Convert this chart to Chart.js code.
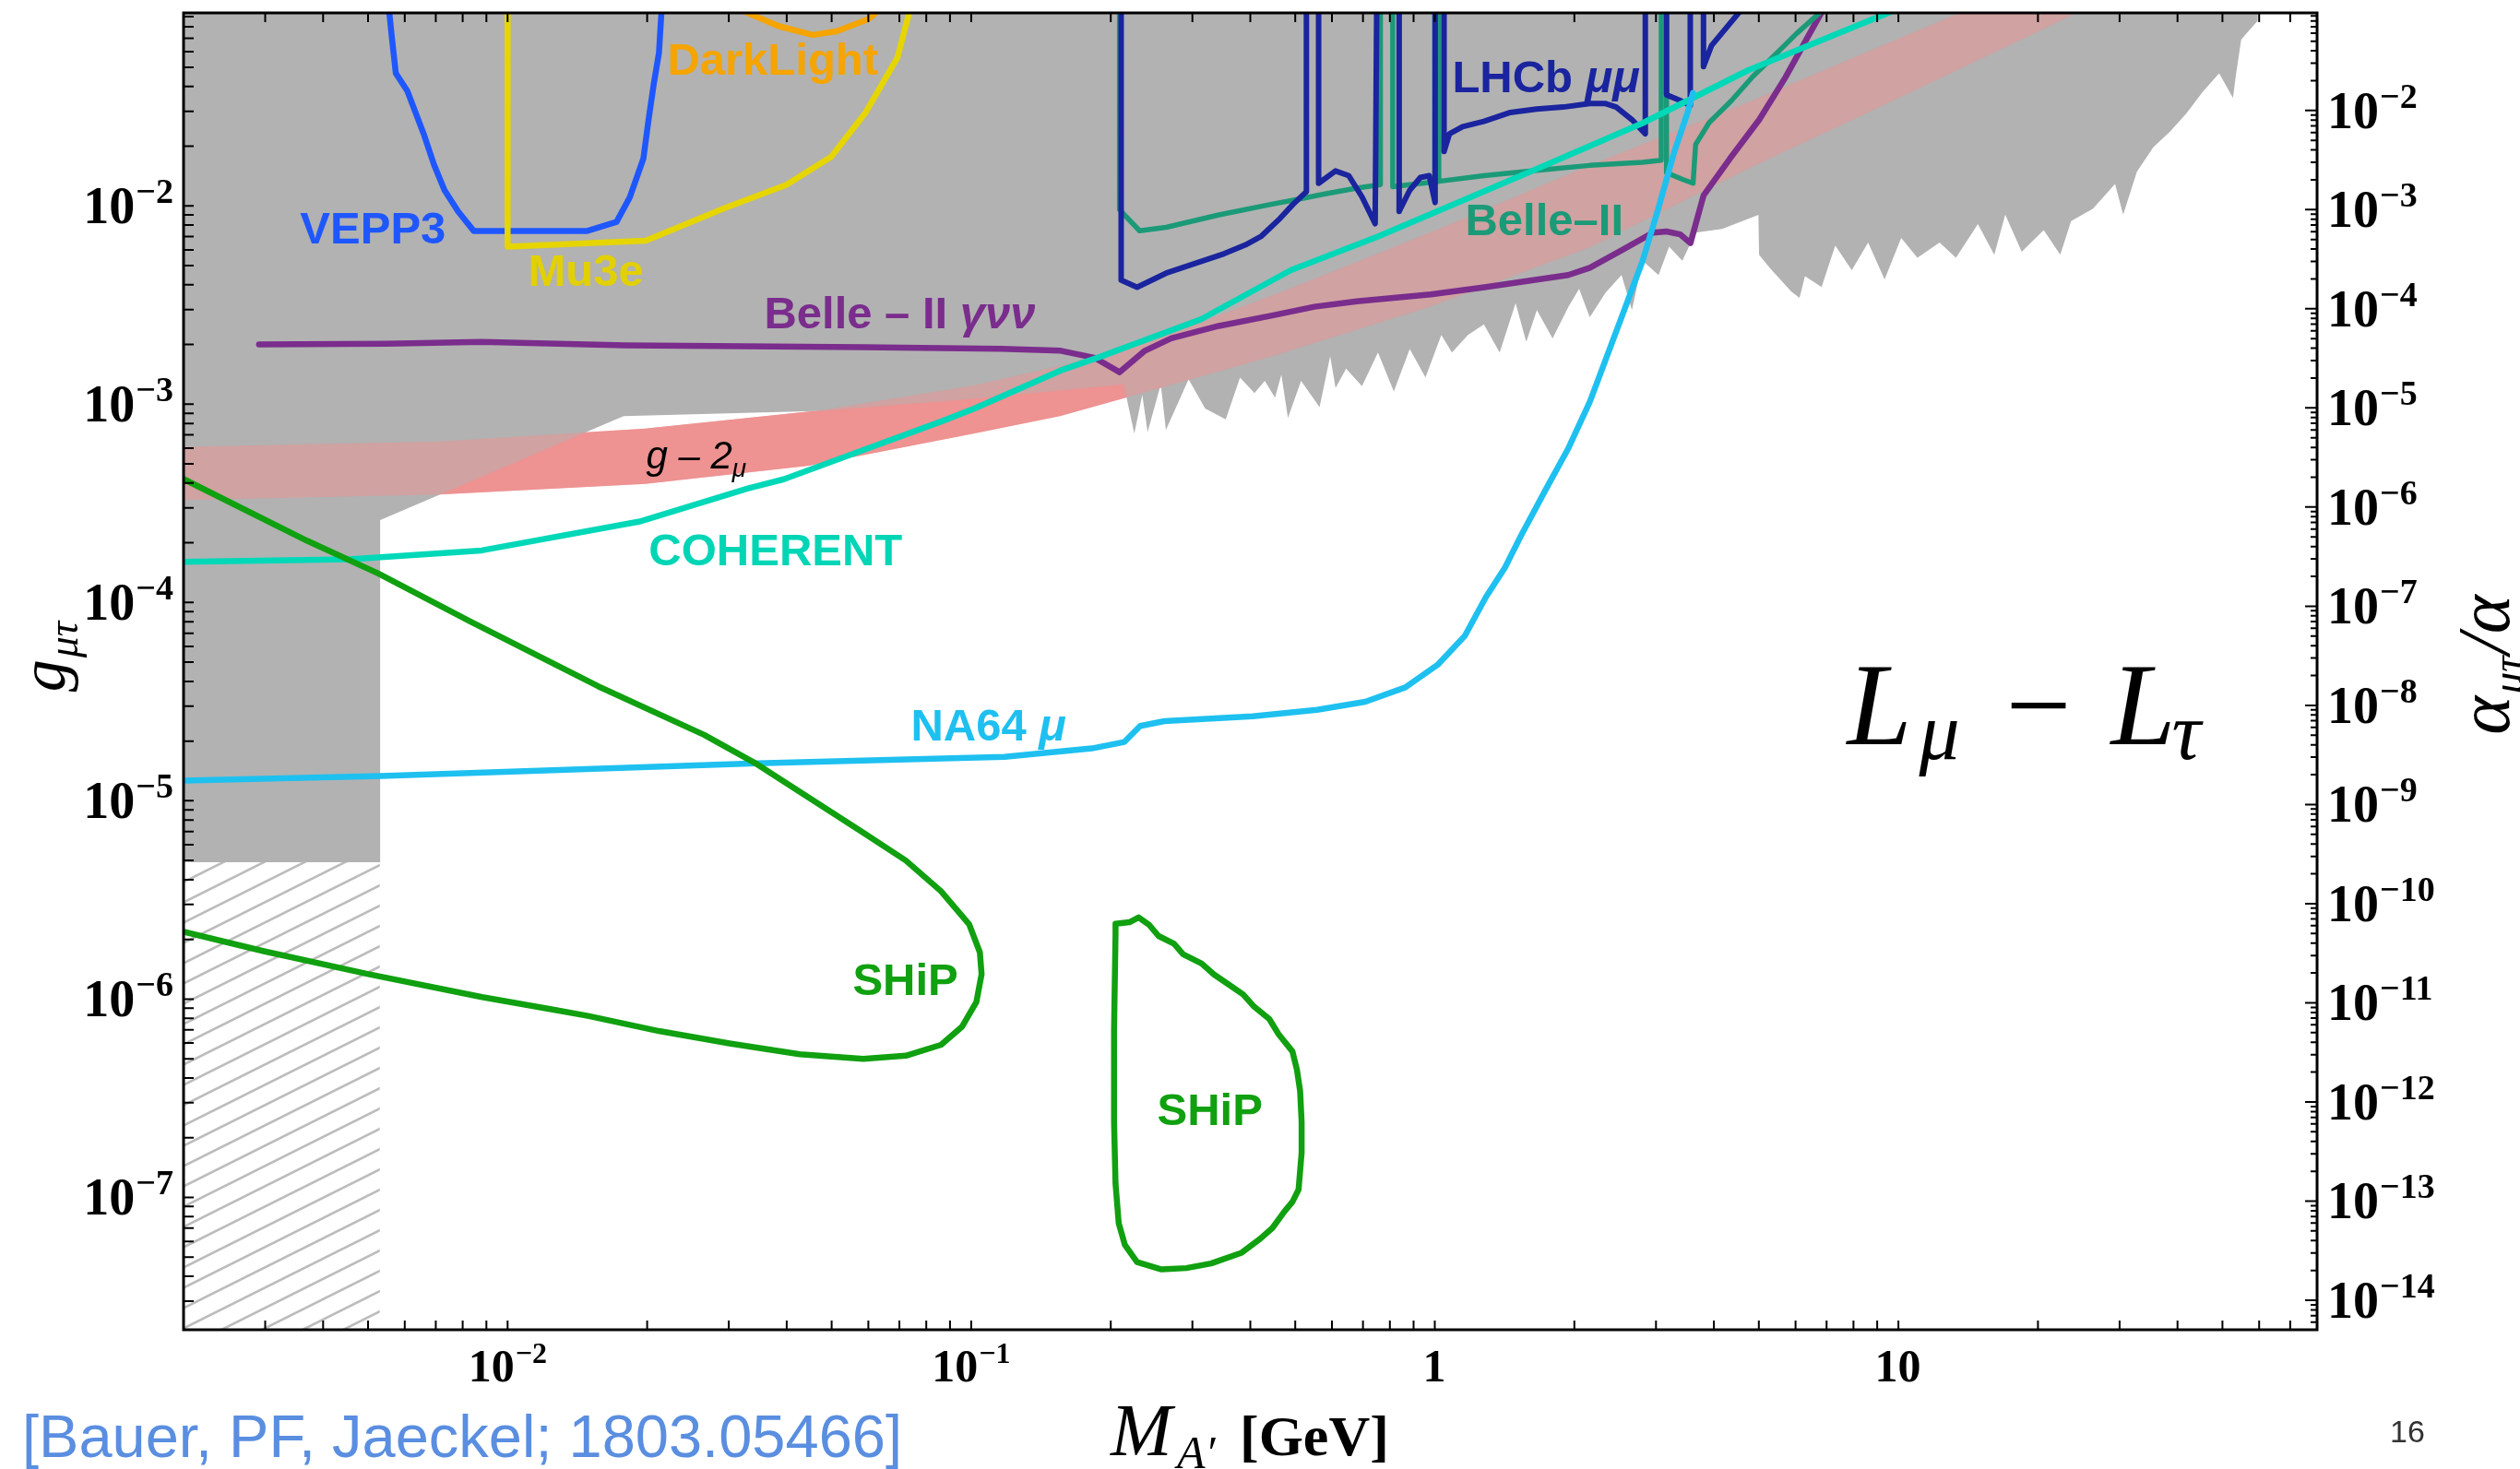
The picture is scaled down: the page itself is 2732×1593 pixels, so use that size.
<!DOCTYPE html>
<html>
<head>
<meta charset="utf-8">
<title>L_mu - L_tau</title>
<script src="https://cdn.jsdelivr.net/npm/chart.js@4.4.1/dist/chart.umd.min.js"></script>
<style>
  html, body { margin: 0; padding: 0; background: #ffffff; }
  #wrap { width: 2732px; height: 1593px; position: relative; }
</style>
</head>
<body>
<div id="wrap"><canvas id="chart"></canvas></div>
<script>
// ---- axis ranges ----
const massRange = [0.002, 80];          // M_A' [GeV]
const gRange = [2.15e-8, 0.094];        // g_mu tau
const alphaPerG2 = 137.036 / (4 * Math.PI);   // alpha_mutau / alpha = g^2 / (4 pi alpha)
const alphaRange = [gRange[0] * gRange[0] * alphaPerG2, gRange[1] * gRange[1] * alphaPerG2];

// ---- tick labels ----
const massTicks = [0.01, 0.1, 1, 10];
const massTickLabels = [['10', '-2'], ['10', '-1'], ['1', ''], ['10', '']];
const gTicks = [1e-7, 1e-6, 1e-5, 1e-4, 1e-3, 1e-2];
const gTickExp = [-7, -6, -5, -4, -3, -2];
const alphaTicks = [1e-14, 1e-13, 1e-12, 1e-11, 1e-10, 1e-9, 1e-8, 1e-7, 1e-6, 1e-5, 1e-4, 1e-3, 1e-2];
const alphaTickExp = [-14, -13, -12, -11, -10, -9, -8, -7, -6, -5, -4, -3, -2];

// ---- regions  [mass, g] ----
const excludedEdge = [
  [0.0019, 4.9e-6], [0.00531, 4.9e-6], [0.00531, 2.6e-4], [0.01779, 8.71e-4], [0.04795, 9.26e-4],
  [0.1010, 1.063e-3], [0.2133, 1.258e-3],
  [0.2248, 7.10e-4], [0.2339, 1.114e-3], [0.2402, 7.24e-4], [0.2564, 1.258e-3], [0.2630, 7.41e-4],
  [0.2797, 1.021e-3], [0.2944, 1.335e-3], [0.3196, 9.51e-4], [0.3540, 8.39e-4], [0.3801, 1.360e-3],
  [0.4084, 1.137e-3], [0.4298, 1.311e-3], [0.4522, 1.077e-3], [0.4667, 1.409e-3], [0.4822, 8.53e-4],
  [0.5147, 1.311e-3], [0.5642, 9.65e-4], [0.5947, 1.747e-3], [0.6108, 1.207e-3], [0.6437, 1.513e-3],
  [0.6966, 1.232e-3], [0.7540, 1.820e-3], [0.8159, 1.159e-3], [0.8829, 1.897e-3], [0.9548, 1.365e-3],
  [1.033, 2.235e-3], [1.089, 1.820e-3], [1.179, 2.235e-3], [1.276, 2.528e-3], [1.380, 1.820e-3],
  [1.494, 3.233e-3], [1.575, 2.059e-3], [1.660, 2.979e-3], [1.795, 2.145e-3], [1.943, 3.103e-3],
  [2.048, 3.811e-3], [2.159, 2.745e-3], [2.336, 3.658e-3], [2.528, 4.483e-3], [2.662, 2.979e-3],
  [2.807, 5.283e-3], [3.038, 4.483e-3], [3.202, 6.225e-3], [3.419, 5.283e-3], [3.652, 7.335e-3],
  [4.168, 7.643e-3], [4.990, 9.01e-3], [5.006, 5.671e-3], [5.278, 4.866e-3], [5.877, 3.693e-3],
  [6.120, 3.439e-3], [6.288, 4.418e-3], [6.828, 3.897e-3], [7.308, 6.306e-3], [7.934, 4.742e-3],
  [8.604, 6.534e-3], [9.337, 4.262e-3], [10.14, 6.898e-3], [10.99, 5.473e-3], [12.27, 6.534e-3],
  [13.31, 5.473e-3], [14.84, 8.097e-3], [16.10, 5.671e-3], [17.00, 9.024e-3], [18.45, 5.875e-3],
  [20.58, 7.544e-3], [22.34, 5.671e-3], [23.58, 8.389e-3], [26.29, 9.687e-3], [29.33, 0.01288],
  [30.54, 9.024e-3], [32.69, 0.01485], [35.49, 0.01979], [38.49, 0.02363], [41.80, 0.02929],
  [45.35, 0.03761], [49.19, 0.04662], [52.69, 0.03504], [53.41, 0.04499], [54.88, 0.06898],
  [56.39, 0.07420], [59.53, 0.08550], [59.53, 0.0987], [59.6, 0.3], [0.0019, 0.3]
];
const hatchBox = [[0.0019, 4.9e-6], [0.0053, 4.9e-6], [0.0053, 1e-8], [0.0019, 1e-8]];
const gm2Upper = [
  [0.0019, 6.08e-4], [0.00712, 6.49e-4], [0.0198, 7.53e-4], [0.0477, 9.33e-4], [0.1016, 1.246e-3],
  [0.1553, 1.559e-3], [0.2138, 1.914e-3], [0.3186, 2.629e-3], [0.4749, 3.747e-3], [0.7545, 5.756e-3],
  [1.055, 7.905e-3], [1.572, 0.0117], [2.164, 0.01606], [4.731, 0.03325], [9.625, 0.06708],
  [14.69, 0.1019], [20, 0.156]
];
const gm2Lower = [
  [0.0019, 3.28e-4], [0.00712, 3.50e-4], [0.0198, 3.96e-4], [0.0447, 4.90e-4], [0.1016, 7.12e-4],
  [0.1553, 8.71e-4], [0.2138, 1.073e-3], [0.4455, 1.743e-3], [0.9818, 3.11e-3], [2.164, 6.20e-3],
  [4.731, 0.01536], [9.625, 0.03344], [25.69, 0.1], [40, 0.166]
];

// ---- limit curves [mass, g] ----
const vepp3 = [
  [0.00550, 0.12], [0.00562, 0.0728], [0.00574, 0.0466], [0.00608, 0.0379], [0.00659, 0.0231],
  [0.00694, 0.0161], [0.00731, 0.0120], [0.00782, 0.00938], [0.00845, 0.00748], [0.01486, 0.00748],
  [0.01718, 0.0083], [0.01835, 0.01106], [0.01963, 0.01734], [0.02014, 0.0272], [0.02066, 0.0410],
  [0.02121, 0.0593], [0.02160, 0.12]
];
const mu3e = [
  [0.0100, 0.12], [0.0100, 0.00622], [0.01986, 0.00668], [0.02944, 0.00977], [0.0399, 0.01277],
  [0.0499, 0.0177], [0.0592, 0.0296], [0.0693, 0.0558], [0.0755, 0.12]
];
const darkLight = [
  [0.0310, 0.11], [0.0319, 0.097], [0.0384, 0.0807], [0.0455, 0.0728], [0.0512, 0.0759],
  [0.0600, 0.0875], [0.0632, 0.097], [0.0645, 0.11]
];
const belleGammaNuNu = [
  [0.00291, 2.00e-3], [0.00548, 2.02e-3], [0.00879, 2.06e-3], [0.0179, 1.98e-3], [0.0584, 1.94e-3],
  [0.116, 1.90e-3], [0.156, 1.86e-3], [0.185, 1.71e-3], [0.209, 1.45e-3], [0.237, 1.86e-3],
  [0.270, 2.15e-3], [0.342, 2.48e-3], [0.446, 2.80e-3], [0.550, 3.10e-3], [0.679, 3.30e-3],
  [0.980, 3.58e-3], [1.28, 3.89e-3], [1.94, 4.48e-3], [2.16, 4.87e-3], [2.53, 5.97e-3],
  [2.96, 7.34e-3], [3.16, 7.43e-3], [3.38, 7.19e-3], [3.56, 6.49e-3], [3.80, 0.0113],
  [4.33, 0.0173], [5.01, 0.0272], [5.71, 0.0446], [6.35, 0.0699], [6.87, 0.0971], [7.5, 0.13]
];
const coherent = [
  [0.0019, 1.60e-4], [0.00456, 1.65e-4], [0.00879, 1.83e-4], [0.0194, 2.57e-4], [0.0330, 3.76e-4],
  [0.0394, 4.18e-4], [0.0550, 5.57e-4], [0.0866, 8.22e-4], [0.1016, 9.51e-4], [0.156, 1.48e-3],
  [0.188, 1.72e-3], [0.313, 2.68e-3], [0.489, 4.74e-3], [0.754, 7.0e-3], [1.658, 0.01536],
  [2.807, 0.02614], [4.75, 0.04838], [9.61, 0.0951], [12, 0.118]
];
const na64mu = [
  [0.0019, 1.26e-5], [0.00534, 1.333e-5], [0.0345, 1.544e-5], [0.118, 1.664e-5], [0.182, 1.837e-5],
  [0.214, 1.98e-5], [0.2315, 2.385e-5], [0.261, 2.522e-5], [0.405, 2.668e-5], [0.557, 2.875e-5],
  [0.708, 3.156e-5], [0.864, 3.734e-5], [1.014, 4.848e-5], [1.161, 6.784e-5], [1.288, 1.061e-4],
  [1.417, 1.50e-4], [1.533, 2.162e-4], [1.748, 3.833e-4], [1.943, 6.02e-4], [2.159, 1.026e-3],
  [2.399, 1.976e-3], [2.596, 3.234e-3], [2.807, 5.283e-3], [3.038, 9.779e-3], [3.287, 0.01882],
  [3.51, 0.02957], [3.604, 0.03706]
];
const shipLowMass = [
  [0.0019, 4.45e-4], [0.00369, 2.05e-4], [0.00526, 1.40e-4], [0.00834, 7.99e-5], [0.01568, 3.78e-5],
  [0.02654, 2.15e-5], [0.03451, 1.53e-5], [0.0580, 7.0e-6], [0.07226, 5.0e-6], [0.08605, 3.50e-6],
  [0.0990, 2.38e-6], [0.1044, 1.72e-6], [0.1053, 1.335e-6], [0.1026, 9.67e-7], [0.0956, 7.27e-7],
  [0.0861, 5.88e-7], [0.0723, 5.18e-7], [0.0585, 4.99e-7], [0.0427, 5.27e-7], [0.0301, 5.98e-7],
  [0.0212, 6.90e-7], [0.0149, 8.23e-7], [0.01251, 8.86e-7], [0.00881, 1.023e-6], [0.00501, 1.335e-6],
  [0.00298, 1.744e-6], [0.0019, 2.25e-6]
];
const shipHighMass = [
  [0.2048, 2.40e-6], [0.2195, 2.44e-6], [0.2297, 2.58e-6], [0.2423, 2.36e-6], [0.2536, 2.08e-6],
  [0.2738, 1.90e-6], [0.2866, 1.68e-6], [0.3141, 1.51e-6], [0.3340, 1.33e-6], [0.3602, 1.18e-6],
  [0.3860, 1.055e-6], [0.4075, 9.16e-7], [0.4395, 7.93e-7], [0.4603, 6.65e-7], [0.4930, 5.45e-7],
  [0.5042, 4.40e-7], [0.5123, 3.43e-7], [0.5161, 2.40e-7], [0.5161, 1.68e-7], [0.5083, 1.094e-7],
  [0.4930, 9.49e-8], [0.4745, 8.52e-8], [0.4462, 7.00e-8], [0.4200, 6.18e-8], [0.3832, 5.26e-8],
  [0.3291, 4.64e-8], [0.2911, 4.40e-8], [0.2574, 4.33e-8], [0.2279, 4.72e-8], [0.2145, 5.76e-8],
  [0.2081, 7.39e-8], [0.2048, 1.174e-7], [0.2033, 2.40e-7], [0.2033, 7.00e-7], [0.2048, 2.12e-6],
  [0.2048, 2.40e-6]
];
const lhcbMuMu = [
  [0.2106, 0.12], [0.2106, 4.22e-3], [0.2279, 3.89e-3], [0.2633, 4.58e-3], [0.3084, 5.18e-3],
  [0.3514, 5.74e-3], [0.3905, 6.36e-3], [0.4227, 7.04e-3], [0.4637, 8.65e-3], [0.4950, 0.0102],
  [0.5285, 0.0118], [0.5285, 0.12], [0.5615, 0.12], [0.5615, 0.0130], [0.6106, 0.0150],
  [0.6523, 0.0142], [0.6966, 0.0111], [0.7437, 8.13e-3], [0.7497, 0.12], [0.8378, 0.12],
  [0.8378, 9.39e-3], [0.8830, 0.0120], [0.9307, 0.0139], [0.9725, 0.0142], [1.0016, 0.0104],
  [1.0016, 0.12], [1.047, 0.12], [1.047, 0.0188], [1.0755, 0.0231], [1.1482, 0.0251],
  [1.2757, 0.0267], [1.4556, 0.0296], [1.658, 0.0308], [1.892, 0.0315], [2.159, 0.0328],
  [2.336, 0.0328], [2.462, 0.0315], [2.663, 0.0272], [2.845, 0.0231], [2.845, 0.12],
  [3.161, 0.12], [3.161, 0.0363], [3.375, 0.0341], [3.557, 0.0321], [3.557, 0.12],
  [3.798, 0.12], [3.798, 0.0504], [3.953, 0.0644], [4.510, 0.0932], [4.9, 0.12]
];
const belle2 = [
  [0.2089, 0.12], [0.2089, 9.58e-3], [0.2308, 7.49e-3], [0.2633, 7.80e-3], [0.3423, 9.01e-3],
  [0.4455, 0.0102], [0.5083, 0.0108], [0.5798, 0.0115], [0.6786, 0.0123], [0.7633, 0.0128],
  [0.7633, 0.12], [0.8114, 0.12], [0.8114, 0.0125], [0.8830, 0.0128], [1.0, 0.0132],
  [1.0, 0.12], [1.02, 0.12], [1.02, 0.0133], [1.2757, 0.0142], [1.658, 0.0151],
  [2.159, 0.0160], [2.807, 0.0166], [3.079, 0.0170], [3.079, 0.12], [3.161, 0.12],
  [3.161, 0.0147], [3.422, 0.0136], [3.606, 0.0130], [3.653, 0.0204], [3.906, 0.0263],
  [4.357, 0.0338], [4.857, 0.0450], [5.418, 0.0578], [6.038, 0.0742], [6.923, 0.0987], [7.4, 0.12]
];

// ---- text annotations, anchored in data coordinates ----
const SANS_B = 'bold 49px "Liberation Sans", Arial, sans-serif';
const SANS_BI = 'italic bold 49px "Liberation Sans", Arial, sans-serif';
const curveLabels = [
  { m: 0.003568, g: 7.78e-3, color: '#1f57ff', parts: [{ t: 'VEPP3', font: SANS_B }] },
  { m: 0.01107, g: 4.75e-3, color: '#e2d000', parts: [{ t: 'Mu3e', font: SANS_B }] },
  { m: 0.0221, g: 0.0552, color: '#f5a400', parts: [{ t: 'DarkLight', font: SANS_B }] },
  { m: 0.03575, g: 2.90e-3, color: '#7a2d8c', parts: [{ t: 'Belle \u2013 II ', font: SANS_B }, { t: '\u03b3\u03bd\u03bd', font: SANS_BI }] },
  { m: 0.02016, g: 1.851e-4, color: '#00d5b5', parts: [{ t: 'COHERENT', font: SANS_B }] },
  { m: 0.0741, g: 2.42e-5, color: '#1ec0f0', parts: [{ t: 'NA64 ', font: SANS_B }, { t: '\u03bc', font: SANS_BI }] },
  { m: 0.05551, g: 1.259e-6, color: '#10a010', parts: [{ t: 'SHiP', font: SANS_B }] },
  { m: 0.2518, g: 2.78e-7, color: '#10a010', parts: [{ t: 'SHiP', font: SANS_B }] },
  { m: 1.0904, g: 0.04503, color: '#1a249e', parts: [{ t: 'LHCb ', font: SANS_B }, { t: '\u03bc\u03bc', font: SANS_BI }] },
  { m: 1.1627, g: 8.61e-3, color: '#1b9a78', parts: [{ t: 'Belle\u2013II', font: SANS_B }] }
];

function toPoints(pairs) {
  return pairs.map(p => ({ x: p[0], y: p[1] }));
}

function logTicks(lo, hi) {
  const out = [];
  for (let e = Math.floor(Math.log10(lo)); e <= Math.ceil(Math.log10(hi)); e++) {
    for (let k = 1; k <= 9; k++) {
      const v = k * Math.pow(10, e);
      if (v >= lo && v <= hi) out.push({ v: v, major: k === 1 });
    }
  }
  return out;
}

function makeHatch() {
  const c = document.createElement('canvas');
  c.width = 44; c.height = 22;
  const p = c.getContext('2d');
  p.strokeStyle = '#bcbcbc';
  p.lineWidth = 2.6;
  p.beginPath();
  for (let k = -1; k <= 1; k++) {
    p.moveTo(-10, 22 + 5 + k * 22);
    p.lineTo(54, -5 + k * 22);
  }
  p.stroke();
  return p.createPattern(c, 'repeat');
}

function drawParts(ctx, parts, x, y) {
  let cx = x;
  parts.forEach(p => {
    ctx.font = p.font;
    const px = p.ox !== undefined ? x + p.ox : cx;
    ctx.fillText(p.t, px, y + (p.dy || 0));
    cx = px + ctx.measureText(p.t).width + (p.gap || 0);
  });
  return cx - x;
}

function partsWidth(ctx, parts) {
  let w = 0;
  parts.forEach(p => { ctx.font = p.font; w += ctx.measureText(p.t).width + (p.gap || 0); });
  return w;
}

const SERIF_B = '"Liberation Serif", "Times New Roman", serif';
function powLabel(ctx, base, exp, x, y, align, big) {
  const bs = big ? 56 : 50, ss = big ? 38 : 32;
  const parts = [{ t: base, font: 'bold ' + bs + 'px ' + SERIF_B, dy: Math.round(bs * 0.34), gap: 1 }];
  if (exp !== '') parts.push({ t: exp.replace('-', '\u2212'), font: 'bold ' + ss + 'px ' + SERIF_B, dy: -3 });
  const w = partsWidth(ctx, parts);
  let x0 = x;
  if (align === 'center') x0 = x - w / 2;
  if (align === 'right') x0 = x - w;
  drawParts(ctx, parts, x0, y);
}

const frameAndText = {
  id: 'frameAndText',
  afterDatasetsDraw(chart) {
    const { ctx, chartArea: a, scales } = chart;
    const xs = scales.x, ys = scales.y, ya = scales.yA;
    ctx.save();
    ctx.textAlign = 'left';
    ctx.textBaseline = 'alphabetic';

    // curve labels
    curveLabels.forEach(l => {
      ctx.fillStyle = l.color;
      drawParts(ctx, l.parts, xs.getPixelForValue(l.m), ys.getPixelForValue(l.g) + 17.5);
    });

    // g-2 label
    ctx.fillStyle = '#000';
    let gx = xs.getPixelForValue(0.01989), gy = ys.getPixelForValue(4.75e-4);
    drawParts(ctx, [
      { t: 'g \u2013 2', font: 'italic 42px "Liberation Sans", Arial, sans-serif' },
      { t: '\u03bc', font: 'italic 28px "Liberation Sans", Arial, sans-serif', dy: 9 }
    ], gx, gy);

    // model name
    gx = xs.getPixelForValue(7.748); gy = ys.getPixelForValue(1.93e-5);
    const mi = 'italic 126px ' + SERIF_B, ms = 'italic 88px ' + SERIF_B, mr = '126px ' + SERIF_B;
    drawParts(ctx, [
      { t: 'L', font: mi, ox: 0 }, { t: '\u03bc', font: ms, dy: 16, ox: 78 },
      { t: '\u2212', font: mr, ox: 172 },
      { t: 'L', font: mi, ox: 286 }, { t: '\u03c4', font: ms, dy: 16, ox: 352 }
    ], gx, gy);

    // frame
    ctx.strokeStyle = '#000';
    ctx.lineWidth = 3;
    ctx.strokeRect(a.left, a.top, a.right - a.left, a.bottom - a.top);

    // inward ticks
    ctx.lineWidth = 2;
    ctx.beginPath();
    logTicks(massRange[0], massRange[1]).forEach(t => {
      const px = xs.getPixelForValue(t.v);
      ctx.moveTo(px, a.bottom); ctx.lineTo(px, a.bottom - 10);
      ctx.moveTo(px, a.top); ctx.lineTo(px, a.top + 10);
    });
    logTicks(gRange[0], gRange[1]).forEach(t => {
      const py = ys.getPixelForValue(t.v);
      ctx.moveTo(a.left, py); ctx.lineTo(a.left + 11, py);
    });
    logTicks(alphaRange[0], alphaRange[1]).forEach(t => {
      const py = ya.getPixelForValue(t.v);
      const len = t.major ? 13 : 7;
      ctx.moveTo(a.right, py); ctx.lineTo(a.right - len, py);
    });
    ctx.stroke();

    // tick labels
    ctx.fillStyle = '#000';
    massTicks.forEach((v, i) => {
      powLabel(ctx, massTickLabels[i][0], massTickLabels[i][1], xs.getPixelForValue(v), a.bottom + 39, 'center', false);
    });
    gTicks.forEach((v, i) => {
      powLabel(ctx, '10', String(gTickExp[i]), a.left - 11, ys.getPixelForValue(v), 'right', true);
    });
    alphaTicks.forEach((v, i) => {
      powLabel(ctx, '10', String(alphaTickExp[i]), a.right + 11, ya.getPixelForValue(v), 'left', true);
    });

    // axis titles
    drawParts(ctx, [
      { t: 'M', font: 'italic 80px ' + SERIF_B, ox: 0 },
      { t: 'A\u2032', font: 'italic 50px ' + SERIF_B, dy: 14, ox: 72 },
      { t: '[GeV]', font: 'bold 62px ' + SERIF_B, ox: 140 }
    ], 1204, 1578);

    const leftTitle = [
      { t: 'g', font: 'italic 70px ' + SERIF_B, gap: 2 },
      { t: '\u03bc\u03c4', font: 'italic 46px ' + SERIF_B, dy: 14 }
    ];
    ctx.save();
    ctx.translate(70, 712);
    ctx.rotate(-Math.PI / 2);
    drawParts(ctx, leftTitle, -partsWidth(ctx, leftTitle) / 2, 0);
    ctx.restore();

    const rightTitle = [
      { t: '\u03b1', font: 'italic 80px ' + SERIF_B, gap: 2 },
      { t: '\u03bc\u03c4', font: 'italic 48px ' + SERIF_B, dy: 15, gap: 2 },
      { t: '/\u03b1', font: 'italic 80px ' + SERIF_B }
    ];
    ctx.save();
    ctx.translate(2720, 721);
    ctx.rotate(-Math.PI / 2);
    drawParts(ctx, rightTitle, -partsWidth(ctx, rightTitle) / 2, 0);
    ctx.restore();

    // citation and page number
    ctx.fillStyle = '#5a8ee0';
    ctx.font = '65px "Liberation Sans", Arial, sans-serif';
    ctx.fillText('[Bauer, PF, Jaeckel; 1803.05466]', 24, 1580);
    ctx.fillStyle = '#333';
    ctx.font = '34px "Liberation Sans", Arial, sans-serif';
    ctx.fillText('16', 2591, 1564);
    ctx.restore();
  }
};

const lineStyle = (color, width) => ({
  showLine: true, fill: false, borderColor: color, borderWidth: width,
  pointRadius: 0, tension: 0, clip: 0, borderJoinStyle: 'round', borderCapStyle: 'round'
});
const region = (color) => ({
  fill: 'shape', backgroundColor: color, borderWidth: 0, pointRadius: 0, tension: 0, clip: 0
});

const gm2Band = toPoints(gm2Upper.concat(gm2Lower.slice().reverse()));

const datasets = [
  Object.assign({ label: 'g-2 band', data: gm2Band }, region('#ee9292')),
  Object.assign({ label: 'excluded', data: toPoints(excludedEdge) }, region('#b2b2b2')),
  Object.assign({ label: 'g-2 band (over excluded)', data: gm2Band }, region('rgba(238,146,146,0.5)')),
  Object.assign({ label: 'hatched', data: toPoints(hatchBox) }, region(makeHatch())),
  Object.assign({ label: 'Belle-II gamma nu nu', data: toPoints(belleGammaNuNu) }, lineStyle('#7a2d8c', 6.5)),
  Object.assign({ label: 'Belle-II', data: toPoints(belle2) }, lineStyle('#1b9a78', 5.5)),
  Object.assign({ label: 'LHCb mu mu', data: toPoints(lhcbMuMu) }, lineStyle('#1a249e', 6)),
  Object.assign({ label: 'COHERENT', data: toPoints(coherent) }, lineStyle('#00d8b8', 6.5)),
  Object.assign({ label: 'NA64 mu', data: toPoints(na64mu) }, lineStyle('#1ec0f0', 6.5)),
  Object.assign({ label: 'VEPP3', data: toPoints(vepp3) }, lineStyle('#1f57ff', 6.5)),
  Object.assign({ label: 'Mu3e', data: toPoints(mu3e) }, lineStyle('#e6d500', 6.5)),
  Object.assign({ label: 'DarkLight', data: toPoints(darkLight) }, lineStyle('#f5a400', 6.5)),
  Object.assign({ label: 'SHiP', data: toPoints(shipLowMass) }, lineStyle('#10a010', 6.5)),
  Object.assign({ label: 'SHiP (2)', data: toPoints(shipHighMass) }, lineStyle('#10a010', 6.5))
];
// first dataset drawn first (bottom)
datasets.forEach((d, i) => { d.order = datasets.length - i; });

new Chart(document.getElementById('chart'), {
  type: 'line',
  data: { datasets: datasets },
  options: {
    responsive: true,
    maintainAspectRatio: false,
    devicePixelRatio: 1,
    animation: false,
    events: [],
    layout: { padding: { left: 199, right: 220, top: 14, bottom: 151 } },
    plugins: { legend: { display: false }, tooltip: { enabled: false }, filler: { propagate: false } },
    scales: {
      x: { type: 'logarithmic', min: massRange[0], max: massRange[1], display: false },
      y: { type: 'logarithmic', min: gRange[0], max: gRange[1], display: false },
      yA: { type: 'logarithmic', axis: 'y', position: 'right', min: alphaRange[0], max: alphaRange[1], display: false }
    }
  },
  plugins: [frameAndText]
});
</script>
</body>
</html>
